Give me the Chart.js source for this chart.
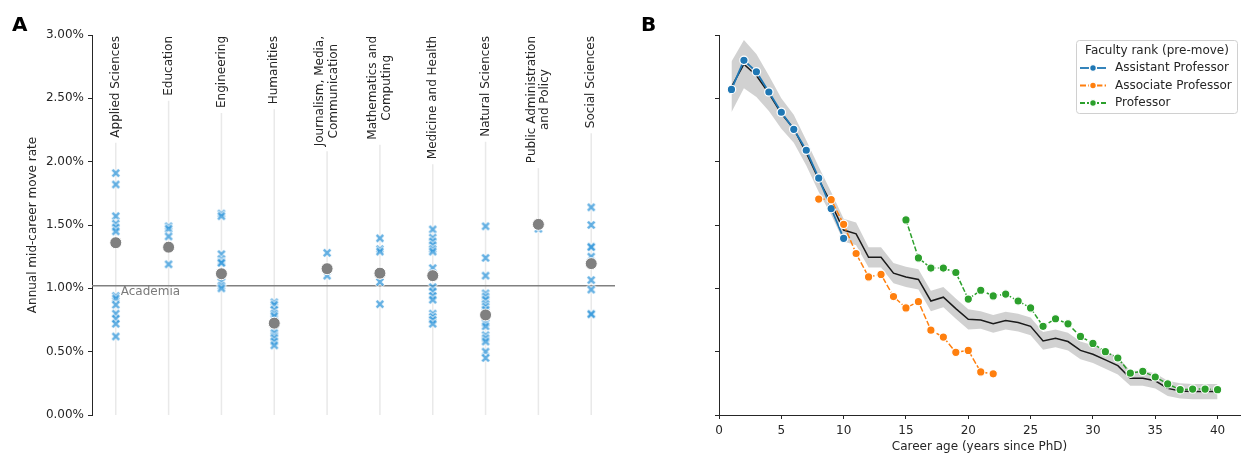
<!DOCTYPE html>
<html><head><meta charset="utf-8">
<script src="https://cdn.jsdelivr.net/npm/chart.js@4"></script>
<style>
body{margin:0;background:#fff;width:1241px;height:454px;overflow:hidden;position:relative;font-family:'DejaVu Sans',sans-serif;}
canvas{position:absolute;top:0;}
#ca{left:0;}
#cb{left:620px;}
.lab{position:absolute;font:bold 20px 'DejaVu Sans',sans-serif;color:#000;line-height:20px;}
</style></head><body>
<canvas id="ca" width="620" height="454"></canvas>
<canvas id="cb" width="621" height="454"></canvas>
<div class="lab" style="left:12px;top:14px">A</div>
<div class="lab" style="left:641px;top:14px">B</div>
<script>
// ---------- Panel A data ----------
const categories = ['Applied Sciences','Education','Engineering','Humanities','Journalism, Media,\nCommunication','Mathematics and\nComputing','Medicine and Health','Natural Sciences','Public Administration\nand Policy','Social Sciences'];
const fieldRates = [
  [1.91,1.82,1.57,1.51,1.48,1.45,0.94,0.92,0.87,0.80,0.76,0.72,0.62],
  [1.49,1.47,1.41,1.19],
  [1.59,1.57,1.27,1.23,1.21,1.20,1.05,1.02,1.00],
  [0.89,0.87,0.83,0.80,0.78,0.67,0.645,0.62,0.605,0.58,0.55],
  [1.28,1.10],
  [1.395,1.31,1.29,1.05,0.875],
  [1.465,1.40,1.37,1.34,1.31,1.29,1.16,1.01,0.975,0.94,0.91,0.80,0.775,0.75,0.72],
  [1.49,1.24,1.10,0.96,0.935,0.91,0.875,0.855,0.83,0.725,0.70,0.63,0.605,0.58,0.50,0.45],
  [1.47],
  [1.64,1.50,1.33,1.325,1.25,1.065,0.99,0.80,0.795]
];
const fieldMeans = [1.36,1.325,1.115,0.725,1.155,1.12,1.10,0.79,1.505,1.195];
const academiaRate = 1.02;
const rateTicks = [0,0.5,1,1.5,2,2.5,3];

// ---------- Panel B data ----------
const careerAge = [1,2,3,4,5,6,7,8,9,10,11,12,13,14,15,16,17,18,19,20,21,22,23,24,25,26,27,28,29,30,31,32,33,34,35,36,37,38,39,40];
const allMean = [2.59,2.77,2.68,2.54,2.38,2.26,2.07,1.86,1.67,1.46,1.43,1.245,1.245,1.12,1.09,1.07,0.90,0.93,0.84,0.755,0.75,0.72,0.745,0.73,0.70,0.585,0.605,0.58,0.51,0.48,0.435,0.39,0.29,0.29,0.27,0.21,0.19,0.185,0.185,0.185];
const allErr = [0.20,0.19,0.17,0.14,0.12,0.11,0.10,0.10,0.09,0.09,0.09,0.08,0.08,0.08,0.08,0.08,0.08,0.08,0.08,0.08,0.07,0.07,0.07,0.07,0.07,0.07,0.07,0.07,0.07,0.07,0.07,0.07,0.06,0.06,0.06,0.06,0.06,0.06,0.06,0.06];
const assistantAge = [1,2,3,4,5,6,7,8,9,10];
const assistantRate = [2.57,2.80,2.71,2.55,2.39,2.255,2.09,1.87,1.63,1.395];
const associateAge = [8,9,10,11,12,13,14,15,16,17,18,19,20,21,22];
const associateRate = [1.705,1.70,1.505,1.275,1.09,1.11,0.935,0.845,0.895,0.67,0.615,0.495,0.51,0.34,0.325];
const professorAge = [15,16,17,18,19,20,21,22,23,24,25,26,27,28,29,30,31,32,33,34,35,36,37,38,39,40];
const professorRate = [1.54,1.24,1.16,1.16,1.125,0.915,0.985,0.94,0.955,0.90,0.845,0.70,0.76,0.72,0.62,0.565,0.50,0.45,0.33,0.345,0.30,0.245,0.20,0.205,0.205,0.20];
const ageTicks = [0,5,10,15,20,25,30,35,40];
const rankNames = ['Assistant Professor','Associate Professor','Professor'];
const rankColors = ['#1f77b4','#ff7f0e','#2ca02c'];

const FONT = "'DejaVu Sans', sans-serif";
const TXT = '#262626';
Chart.defaults.font.family = FONT;
Chart.defaults.font.size = 12;
Chart.defaults.color = TXT;
Chart.defaults.animation = false;

// X marker image (filled X with white edge, then alpha)
function makeX(){
  const s = 14, c = s/2, a = 3.3;
  const o = document.createElement('canvas'); o.width = s; o.height = s;
  const g = o.getContext('2d');
  g.lineCap = 'butt';
  g.strokeStyle = '#ffffff'; g.lineWidth = 4.4;
  g.beginPath(); g.moveTo(c-a-0.7,c-a-0.7); g.lineTo(c+a+0.7,c+a+0.7); g.moveTo(c+a+0.7,c-a-0.7); g.lineTo(c-a-0.7,c+a+0.7); g.stroke();
  g.strokeStyle = '#3498db'; g.lineWidth = 2.6;
  g.beginPath(); g.moveTo(c-a,c-a); g.lineTo(c+a,c+a); g.moveTo(c+a,c-a); g.lineTo(c-a,c+a); g.stroke();
  const f = document.createElement('canvas'); f.width = s; f.height = s;
  const h = f.getContext('2d'); h.globalAlpha = 0.75; h.drawImage(o,0,0);
  return f;
}
const xMarker = makeX();

const catPlugin = {
  id:'catLabels',
  beforeDatasetsDraw(chart){
    const {ctx, scales:{x,y}, chartArea} = chart;
    ctx.save();
    ctx.font = "12px " + FONT;
    categories.forEach((c,i)=>{
      const lines = c.split('\n');
      const px = x.getPixelForValue(i);
      const w = Math.max(...lines.map(l=>ctx.measureText(l).width));
      const top = chartArea.top;
      ctx.strokeStyle = '#e9e9e9'; ctx.lineWidth = 1.5;
      ctx.beginPath(); ctx.moveTo(px, top + w + 6); ctx.lineTo(px, chartArea.bottom); ctx.stroke();
      ctx.save();
      ctx.translate(px, top + w/2 + 1);
      ctx.rotate(-Math.PI/2);
      ctx.fillStyle = TXT; ctx.textAlign = 'center'; ctx.textBaseline = 'middle';
      const lh = 13.5;
      lines.forEach((l,k)=>ctx.fillText(l, 0, (k-(lines.length-1)/2)*lh));
      ctx.restore();
    });
    const ay = y.getPixelForValue(academiaRate);
    ctx.strokeStyle = '#808080'; ctx.lineWidth = 1.5;
    ctx.beginPath(); ctx.moveTo(chartArea.left, ay); ctx.lineTo(chartArea.right, ay); ctx.stroke();
    ctx.fillStyle = '#7a7a7a'; ctx.textAlign = 'left'; ctx.textBaseline = 'top';
    ctx.fillText('Academia', x.getPixelForValue(0) + 5, ay + 0.5);
    ctx.restore();
  }
};

const stripPoints = fieldRates.flatMap((arr,i)=>arr.map(v=>({x:i,y:v})));
const meanPoints = fieldMeans.map((v,i)=>({x:i,y:v}));

new Chart(document.getElementById('ca'), {
  type:'scatter',
  data:{datasets:[
    {label:'mean', data:meanPoints, pointStyle:'circle', pointRadius:6, pointBackgroundColor:'#808080', pointBorderColor:'#ffffff', pointBorderWidth:1, order:0},
    {label:'fields', data:stripPoints, pointStyle:xMarker, pointRadius:7, order:1}
  ]},
  options:{
    responsive:false, devicePixelRatio:1,
    layout:{autoPadding:false, padding:{left:0,top:35,right:5,bottom:39}},
    plugins:{legend:{display:false}, tooltip:{enabled:false}},
    scales:{
      x:{type:'linear', min:-0.45, max:9.45, display:false},
      y:{type:'linear', min:0, max:3,
        afterBuildTicks:(s)=>{s.ticks = rateTicks.map(v=>({value:v}));},
        afterFit:(s)=>{s.width = 92; s.paddingTop = 0; s.paddingBottom = 0;},
        ticks:{callback:(v)=>v.toFixed(2)+'%', padding:4, color:TXT, font:{size:12}},
        grid:{display:true, drawOnChartArea:false, drawTicks:true, tickLength:4, color:TXT, tickWidth:1},
        border:{display:true, color:TXT, width:1},
        title:{display:true, text:'Annual mid-career move rate', color:TXT, font:{size:12}, padding:{top:26,bottom:0}}
      }
    }
  },
  plugins:[catPlugin]
});

// ---------- Panel B ----------
const legendPlugin = {
  id:'rankLegend',
  afterDraw(chart){
    const ctx = chart.ctx;
    ctx.save();
    const x0 = 456.5, y0 = 40.5, w = 161, h = 73;
    ctx.fillStyle = 'rgba(255,255,255,0.85)';
    ctx.strokeStyle = '#d0d0d0'; ctx.lineWidth = 1;
    ctx.beginPath(); ctx.roundRect(x0, y0, w, h, 3); ctx.fill(); ctx.stroke();
    ctx.font = "12px " + FONT; ctx.fillStyle = TXT;
    ctx.textAlign = 'center'; ctx.textBaseline = 'middle';
    ctx.fillText('Faculty rank (pre-move)', x0 + w/2, 51);
    const ys = [68, 85.5, 103];
    const dashes = [[], [6,2.2], [5,2]];
    rankNames.forEach((n,i)=>{
      ctx.strokeStyle = rankColors[i]; ctx.lineWidth = 1.8; ctx.setLineDash(dashes[i]);
      ctx.beginPath(); ctx.moveTo(460, ys[i]); ctx.lineTo(486, ys[i]); ctx.stroke();
      ctx.setLineDash([]);
      ctx.beginPath(); ctx.arc(473, ys[i], 3.4, 0, Math.PI*2);
      ctx.fillStyle = rankColors[i]; ctx.fill();
      ctx.strokeStyle = '#fff'; ctx.lineWidth = 1.4; ctx.stroke();
      ctx.fillStyle = TXT; ctx.textAlign = 'left';
      ctx.fillText(n, 495, ys[i]);
    });
    ctx.restore();
  }
};

const pts = (xs, ys) => xs.map((a,i)=>({x:a, y:ys[i]}));
const rankDs = (i, xs, ys, dash, bw) => ({
  label:rankNames[i], data:pts(xs,ys), borderColor:rankColors[i], backgroundColor:rankColors[i],
  borderWidth:bw, borderDash:dash, showLine:true, tension:0, fill:false,
  pointRadius:4.2, pointBackgroundColor:rankColors[i], pointBorderColor:'#ffffff', pointBorderWidth:1.2
});

new Chart(document.getElementById('cb'), {
  type:'scatter',
  data:{datasets:[
    rankDs(2, professorAge, professorRate, [5,2], 1.5),
    rankDs(1, associateAge, associateRate, [6,2.2], 1.5),
    rankDs(0, assistantAge, assistantRate, [], 1.8),
    {label:'all', data:pts(careerAge, allMean), borderColor:'#1a1a1a', borderWidth:1.5, showLine:true, tension:0, pointRadius:0, fill:false},
    {label:'upper', data:pts(careerAge, allMean.map((v,i)=>v+allErr[i])), borderWidth:0, borderColor:'rgba(0,0,0,0)', showLine:true, tension:0, pointRadius:0, fill:{target:5}, backgroundColor:'rgba(0,0,0,0.18)'},
    {label:'lower', data:pts(careerAge, allMean.map((v,i)=>v-allErr[i])), borderWidth:0, borderColor:'rgba(0,0,0,0)', showLine:true, tension:0, pointRadius:0, fill:false}
  ]},
  options:{
    responsive:false, devicePixelRatio:1,
    layout:{autoPadding:false, padding:{left:0,top:35,right:1,bottom:0}},
    plugins:{legend:{display:false}, tooltip:{enabled:false}},
    scales:{
      x:{type:'linear', min:0, max:41.8,
        afterBuildTicks:(s)=>{s.ticks = ageTicks.map(v=>({value:v}));},
        afterFit:(s)=>{s.height = 39; s.paddingLeft = 0; s.paddingRight = 0;},
        ticks:{padding:5, color:TXT, font:{size:12}},
        grid:{display:true, drawOnChartArea:false, drawTicks:true, tickLength:4, color:TXT},
        border:{display:true, color:TXT, width:1},
        title:{display:true, text:'Career age (years since PhD)', color:TXT, font:{size:12}, padding:{top:0,bottom:0}}
      },
      y:{type:'linear', min:0, max:3,
        afterBuildTicks:(s)=>{s.ticks = rateTicks.map(v=>({value:v}));},
        afterFit:(s)=>{s.width = 99; s.paddingTop = 0; s.paddingBottom = 0;},
        ticks:{display:false},
        grid:{display:true, drawOnChartArea:false, drawTicks:true, tickLength:4, color:TXT},
        border:{display:true, color:TXT, width:1}
      }
    }
  },
  plugins:[legendPlugin]
});
</script>
</body></html>
